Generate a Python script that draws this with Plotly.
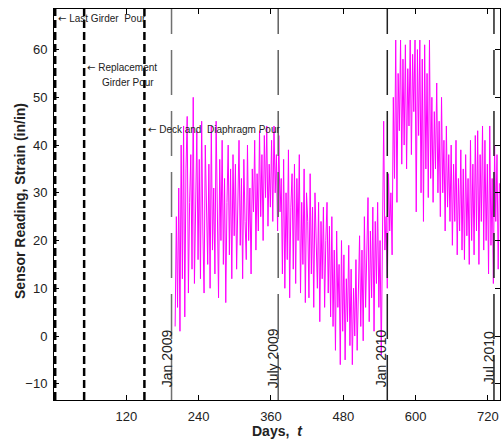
import plotly.graph_objects as go

# ---- data ----
day_start = 201
day_step = 2
strain = [
    2, 25, 6, 31, 1, 40, 12, 44, 4, 35,
    46, 9, 28, 38, 14, 50, 11, 33, 43, 16,
    37, 12, 45, 22, 9, 40, 27, 15, 36, 10,
    44, 18, 31, 13, 45, 25, 8, 37, 20, 41,
    15, 33, 7, 28, 40, 17, 35, 12, 38, 21,
    36, 14, 29, 41, 19, 33, 12, 37, 24, 16,
    40, 20, 31, 13, 35, 26, 41, 18, 34, 22,
    43, 25, 38, 20, 42, 29, 44, 23, 36, 27,
    41, 24, 44, 30, 38, 22, 42, 26, 33, 13,
    37, 10, 30, 16, 39, 8, 27, 34, 14, 36,
    11, 33, 20, 38, 9, 28, 15, 35, 7, 30,
    24, 8, 34, 13, 27, 6, 30, 18, 10, 28,
    3, 24, 12, 27, 6, 20, 28, 9, 23, 4,
    25, 2, 18, -3, 22, 6, 15, -6, 20, 1,
    17, -5, 12, 3, 19, -2, 14, -6, 10, 0,
    16, -3, 12, 21, 2, 18, -1, 25, 6, 15,
    29, 3, 22, 8, 27, 1, 24, 11, 28, 6,
    20, -4, 27, 45, 18, 25, 10, 34, 22, 30,
    17, 50, 33, 62, 28, 55, 43, 62, 36, 58,
    40, 61, 35, 56, 44, 62, 38, 59, 47, 62,
    26, 60, 42, 62, 30, 58, 24, 61, 35, 55,
    29, 62, 33, 50, 28, 47, 35, 53, 30, 45,
    25, 50, 30, 41, 22, 44, 27, 38, 24, 40,
    19, 36, 24, 41, 17, 33, 22, 39, 18, 35,
    16, 38, 21, 33, 15, 41, 20, 36, 17, 42,
    22, 43, 15, 38, 24, 44, 18, 41, 20, 36,
    13, 44, 19, 33, 11, 40, 24, 38, 14, 32,
]
days = [day_start + i * day_step for i in range(len(strain))]

pour_days = [2, 50, 150]
date_days = [195, 372, 553, 730]
date_labels = ["Jan 2009", "July 2009", "Jan 2010", "Jul 2010"]
date_colors = ["#707070", "#606060", "#222222", "#222222"]

x_ticks = [120, 240, 360, 480, 600, 720]
y_ticks = [-10, 0, 10, 20, 30, 40, 50, 60]
x_range = [0, 740]
y_range = [-13.4, 68.5]

FONT = "Liberation Sans, Arial, sans-serif"
ARROW = "<span style='font-family:DejaVu Sans'>\u2190</span> "

fig = go.Figure()
fig.add_trace(go.Scatter(x=days, y=strain, mode="lines",
                         line=dict(color="#ff00ff", width=1),
                         hoverinfo="skip", showlegend=False))

shapes = []
for d in pour_days:
    shapes.append(dict(type="line", xref="x", yref="y", x0=d, x1=d,
                       y0=y_range[0], y1=y_range[1],
                       line=dict(color="black", width=2.5, dash="8px,4px")))
for d, c in zip(date_days, date_colors):
    shapes.append(dict(type="line", xref="x", yref="y", x0=d, x1=d,
                       y0=y_range[0], y1=y_range[1],
                       line=dict(color=c, width=1.5, dash="45px,16px")))

annotations = [
    dict(x=3, y=66.5, text=ARROW + "Last Girder  Pour", xanchor="left"),
    dict(x=51, y=56.2, text=ARROW + "Replacement", xanchor="left"),
    dict(x=77, y=53.1, text="Girder Pour", xanchor="left"),
    dict(x=152, y=43.3, text=ARROW + "Deck and  Diaphragm Pour", xanchor="left"),
]
for a in annotations:
    a.update(xref="x", yref="y", showarrow=False, yanchor="middle",
             font=dict(family=FONT, size=10, color="#222"))

label_x = [188, 364, 543, 722]
for lx, lab in zip(label_x, date_labels):
    annotations.append(dict(x=lx, y=-4.6, xref="x", yref="y", text=lab,
                            textangle=-90, showarrow=False,
                            font=dict(family=FONT, size=14, color="#222")))

annotations.append(dict(x=0.5, y=-0.079, xref="paper", yref="paper",
                        text="<b>Days,  <i>t</i></b>", showarrow=False,
                        xanchor="center", yanchor="middle",
                        font=dict(family=FONT, size=14, color="#222")))
annotations.append(dict(x=-0.0762, y=0.509, xref="paper", yref="paper",
                        text="<b>Sensor Reading, Strain (in/in)</b>",
                        textangle=-90, showarrow=False,
                        xanchor="center", yanchor="middle",
                        font=dict(family=FONT, size=14, color="#222")))

axis_common = dict(showgrid=False, zeroline=False, showline=True,
                   linecolor="black", linewidth=1, mirror="ticks",
                   ticks="inside", ticklen=5, tickcolor="black",
                   tickfont=dict(family=FONT, size=13, color="#222"))

fig.update_layout(
    width=504, height=443,
    margin=dict(l=54, r=4, t=9, b=43),
    paper_bgcolor="white", plot_bgcolor="white",
    xaxis=dict(range=x_range, tickvals=x_ticks, ticklabelstandoff=4, **axis_common),
    yaxis=dict(range=y_range, tickvals=y_ticks, ticklabelstandoff=3, **axis_common),
    shapes=shapes, annotations=annotations, showlegend=False,
)

fig.write_html("out.html", config={"displayModeBar": False},
               post_script="document.body.style.margin='0';document.body.style.overflow='hidden';")
